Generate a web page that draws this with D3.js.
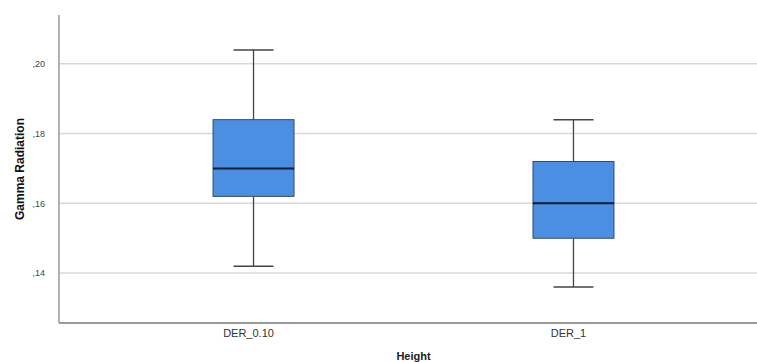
<!DOCTYPE html>
<html lang="en">
<head>
<meta charset="UTF-8">
<title>Gamma Radiation boxplot</title>
<script src="https://cdn.jsdelivr.net/npm/d3@7"></script>
<style>
  body { margin: 0; background: #fff; }
  svg { display: block; }
</style>
</head>
<body>
<svg id="chart" width="757" height="362"></svg>
<script>
// groups on the x axis
var categories = ["DER_0.10", "DER_1"];
// five-number summaries
var whiskerLow = [0.142, 0.136];
var q1 = [0.162, 0.150];
var median = [0.170, 0.160];
var q3 = [0.184, 0.172];
var whiskerHigh = [0.204, 0.184];
var yTicks = [0.14, 0.16, 0.18, 0.20];

var svg = d3.select("#chart");
var plotLeft = 59, plotRight = 768, plotTop = 15, plotBottom = 323;

var x = d3.scalePoint().domain(categories).range([plotLeft, plotRight]).padding(0.608);
var y = d3.scaleLinear().domain([0.1257, 0.214]).range([plotBottom, plotTop]);
var boxW = 81, capW = 40;

var fmt = function(v) { return d3.format(".2f")(v).replace(/^0/, "").replace(".", ","); };

// grid lines
svg.append("g").selectAll("line").data(yTicks).enter().append("line")
  .attr("x1", plotLeft).attr("x2", plotRight)
  .attr("y1", function(d) { return y(d); }).attr("y2", function(d) { return y(d); })
  .attr("stroke", "#d9d9d9").attr("stroke-width", 1.5);

// y tick labels
svg.append("g").selectAll("text").data(yTicks).enter().append("text")
  .attr("x", 45).attr("y", function(d) { return y(d); }).attr("dy", "0.35em")
  .attr("text-anchor", "end")
  .attr("font-family", "Liberation Sans, Arial, sans-serif").attr("font-size", 9)
  .attr("fill", "#444")
  .text(fmt);

// axes lines
svg.append("line").attr("x1", plotLeft).attr("x2", plotLeft).attr("y1", plotTop).attr("y2", plotBottom)
  .attr("stroke", "#9a9a9a").attr("stroke-width", 1.5);
svg.append("line").attr("x1", plotLeft).attr("x2", plotRight).attr("y1", plotBottom).attr("y2", plotBottom)
  .attr("stroke", "#9a9a9a").attr("stroke-width", 2);

// boxes
var gs = svg.append("g").selectAll("g").data(categories).enter().append("g");

gs.append("line")
  .attr("x1", function(d) { return x(d); }).attr("x2", function(d) { return x(d); })
  .attr("y1", function(d, i) { return y(whiskerHigh[i]); })
  .attr("y2", function(d, i) { return y(q3[i]); })
  .attr("stroke", "#444").attr("stroke-width", 1.3);
gs.append("line")
  .attr("x1", function(d) { return x(d); }).attr("x2", function(d) { return x(d); })
  .attr("y1", function(d, i) { return y(q1[i]); })
  .attr("y2", function(d, i) { return y(whiskerLow[i]); })
  .attr("stroke", "#444").attr("stroke-width", 1.3);
gs.append("line")
  .attr("x1", function(d) { return x(d) - capW / 2; }).attr("x2", function(d) { return x(d) + capW / 2; })
  .attr("y1", function(d, i) { return y(whiskerHigh[i]); })
  .attr("y2", function(d, i) { return y(whiskerHigh[i]); })
  .attr("stroke", "#444").attr("stroke-width", 1.5);
gs.append("line")
  .attr("x1", function(d) { return x(d) - capW / 2; }).attr("x2", function(d) { return x(d) + capW / 2; })
  .attr("y1", function(d, i) { return y(whiskerLow[i]); })
  .attr("y2", function(d, i) { return y(whiskerLow[i]); })
  .attr("stroke", "#444").attr("stroke-width", 1.5);

gs.append("rect")
  .attr("x", function(d) { return x(d) - boxW / 2; })
  .attr("width", boxW)
  .attr("y", function(d, i) { return y(q3[i]); })
  .attr("height", function(d, i) { return y(q1[i]) - y(q3[i]); })
  .attr("fill", "#4a8fe2").attr("stroke", "#3a4b66").attr("stroke-width", 1);

gs.append("line")
  .attr("x1", function(d) { return x(d) - boxW / 2; }).attr("x2", function(d) { return x(d) + boxW / 2; })
  .attr("y1", function(d, i) { return y(median[i]); })
  .attr("y2", function(d, i) { return y(median[i]); })
  .attr("stroke", "#0b1a33").attr("stroke-width", 2);

// x tick labels
svg.append("g").selectAll("text").data(categories).enter().append("text")
  .attr("x", function(d) { return x(d) - 5; }).attr("y", 337)
  .attr("text-anchor", "middle")
  .attr("font-family", "Liberation Sans, Arial, sans-serif").attr("font-size", 11)
  .attr("fill", "#333")
  .text(function(d) { return d; });

// axis titles
svg.append("text")
  .attr("x", (plotLeft + plotRight) / 2).attr("y", 360)
  .attr("text-anchor", "middle")
  .attr("font-family", "Liberation Sans, Arial, sans-serif").attr("font-size", 11)
  .attr("font-weight", "bold").attr("fill", "#222")
  .text("Height");

svg.append("text")
  .attr("transform", "translate(24,169) rotate(-90)")
  .attr("text-anchor", "middle")
  .attr("font-family", "Liberation Sans Narrow, Arial Narrow, sans-serif").attr("font-size", 12)
  .attr("font-weight", "bold").attr("fill", "#111")
  .text("Gamma Radiation");
</script>
</body>
</html>
